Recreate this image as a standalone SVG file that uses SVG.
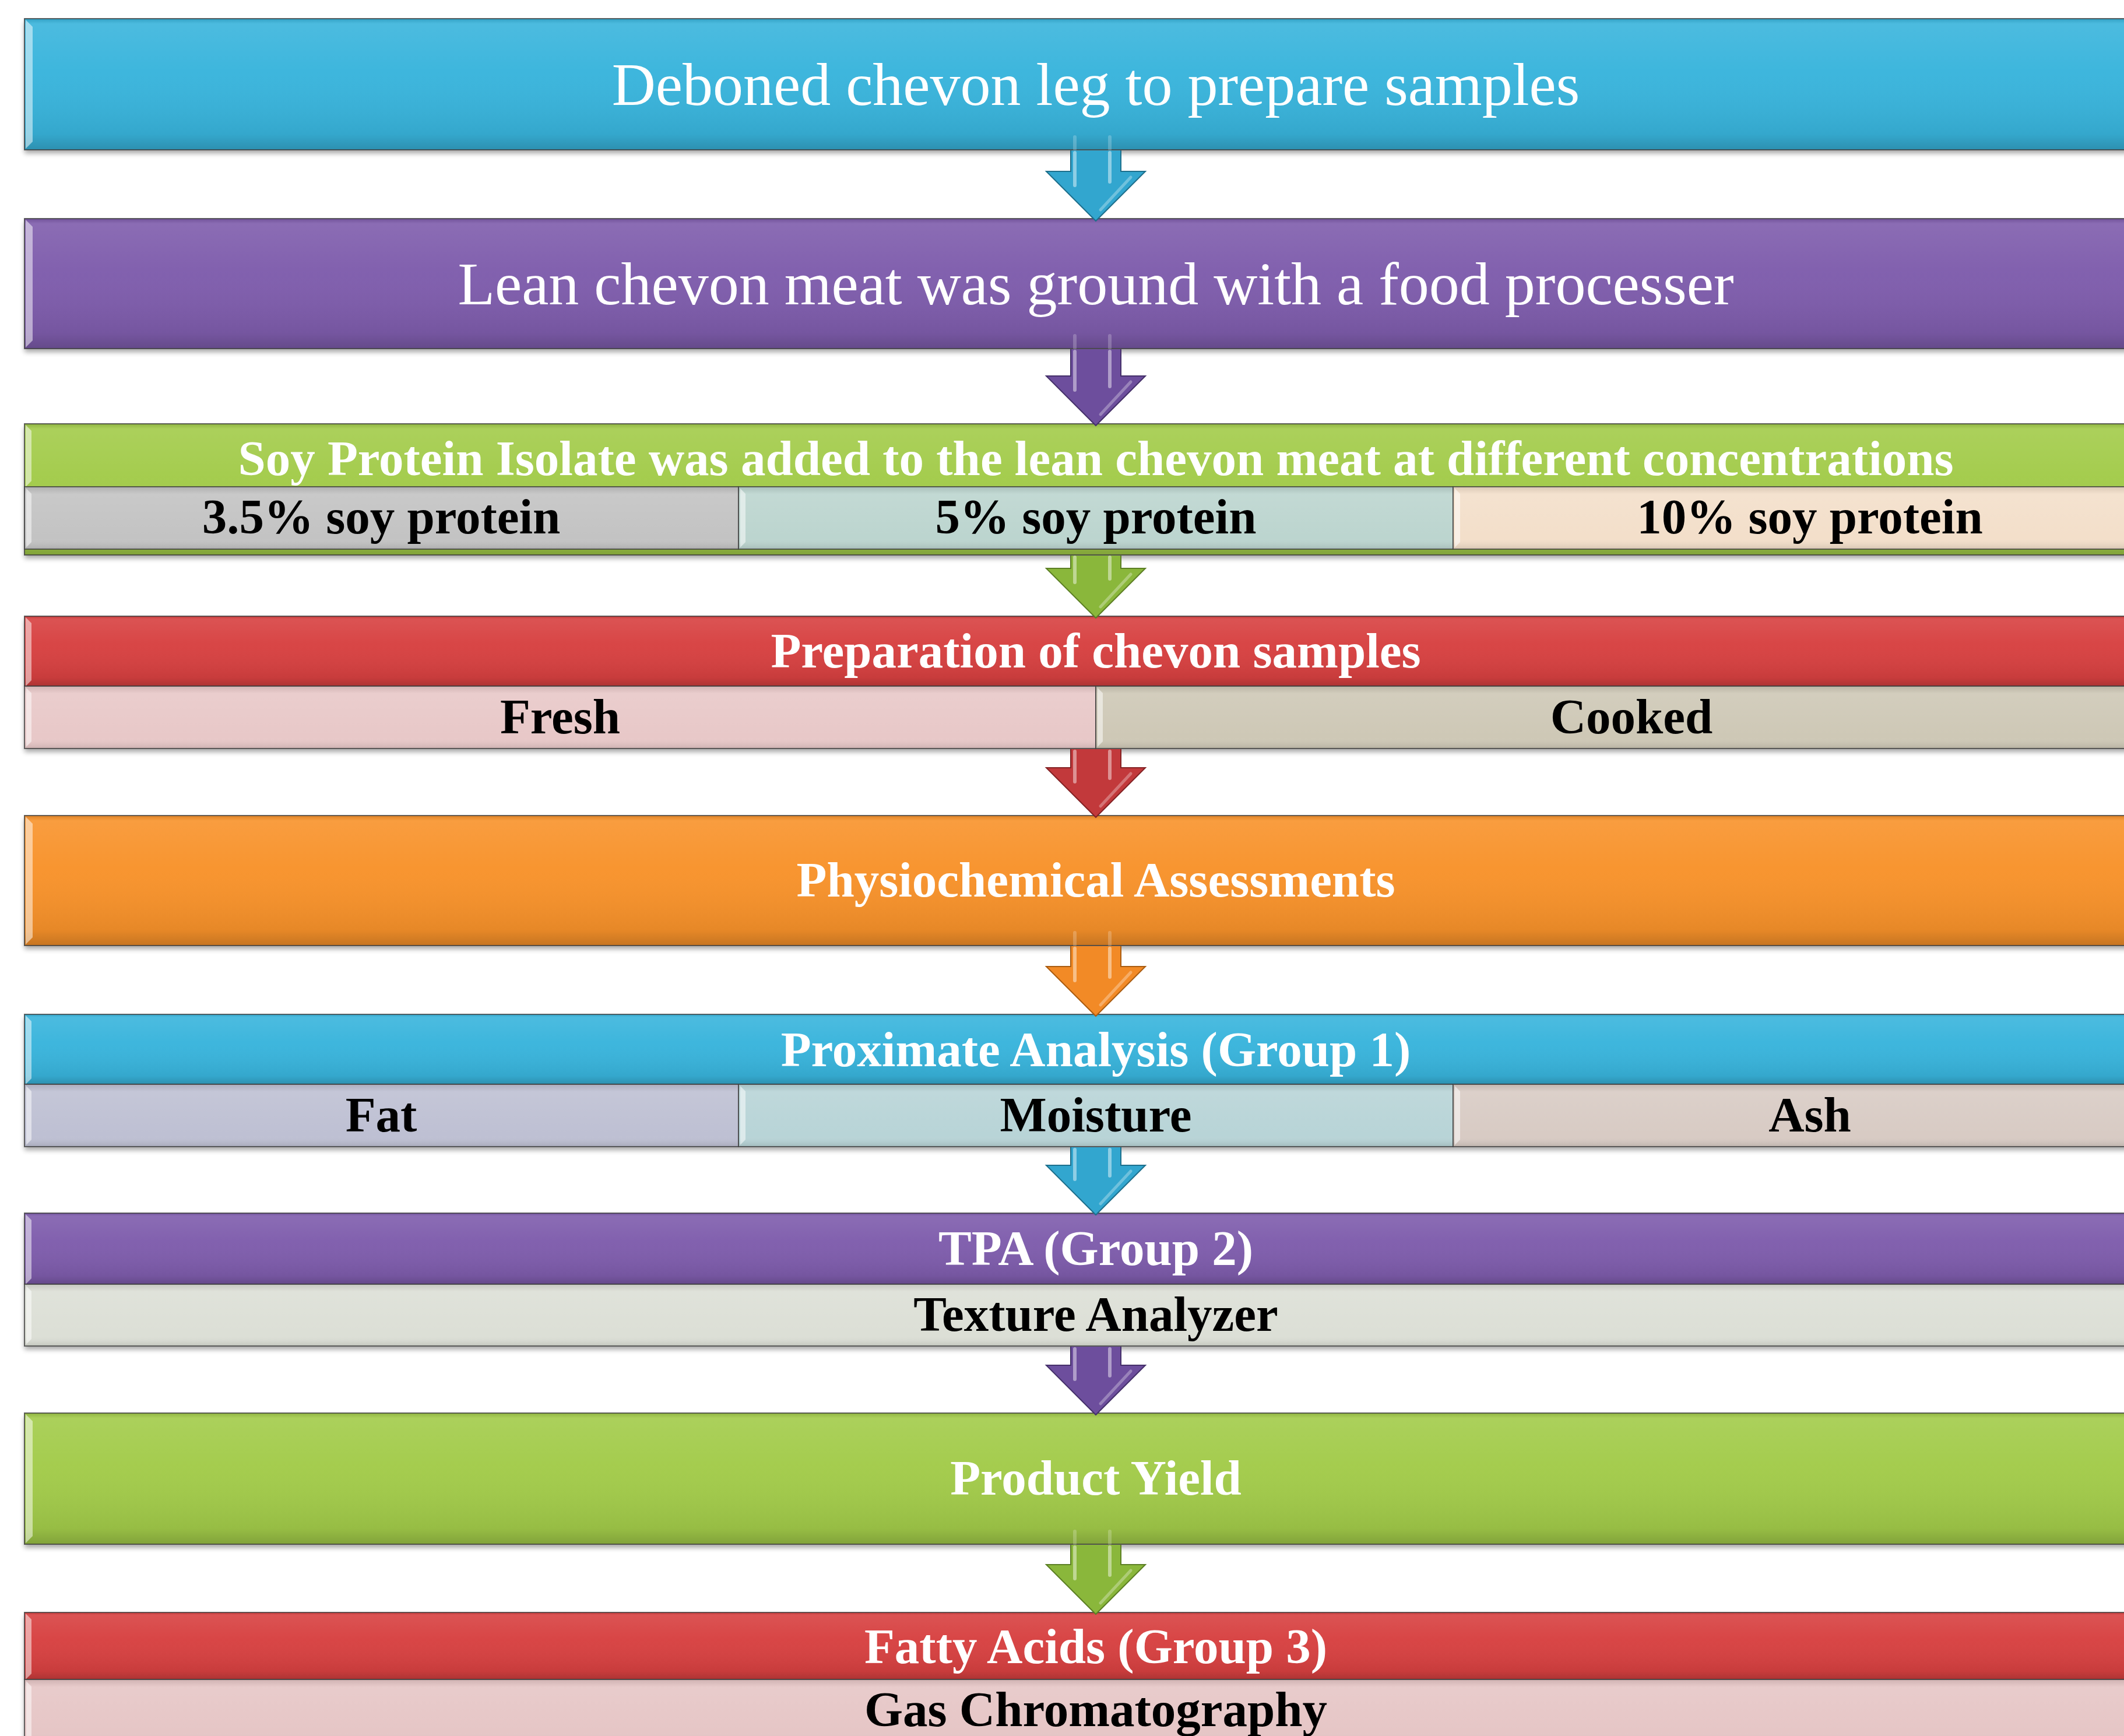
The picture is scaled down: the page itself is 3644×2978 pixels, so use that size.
<svg xmlns="http://www.w3.org/2000/svg" width="3644" height="2978" viewBox="0 0 3644 2978">
<style>
.tr{font-family:"Liberation Serif","Times New Roman",serif;font-size:104px;fill:#ffffff;text-anchor:middle}
.th{font-family:"Liberation Serif","Times New Roman",serif;font-weight:bold;font-size:85px;fill:#ffffff;text-anchor:middle}
.tc{font-family:"Liberation Serif","Times New Roman",serif;font-weight:bold;font-size:85px;fill:#000000;text-anchor:middle}
.bd{stroke:#3a3a3a;stroke-width:2;stroke-opacity:0.75}
.hl{fill:#ffffff;fill-opacity:0.5}
.ahl{stroke:#ffffff;stroke-opacity:0.45;stroke-width:6;fill:none;stroke-linecap:round}
.ain{stroke:#ffffff;stroke-opacity:0.22;stroke-width:6;fill:none;stroke-linecap:round}
.ahd{stroke:#ffffff;stroke-opacity:0.3;stroke-width:5;fill:none;stroke-linecap:round}
.ao{fill:none;stroke-width:2;stroke-linejoin:miter}
</style>
<defs>
<filter id="sh" x="-2%" y="-20%" width="104%" height="150%">
<feGaussianBlur in="SourceAlpha" stdDeviation="4"/>
<feOffset dy="6" result="o"/>
<feComponentTransfer><feFuncA type="linear" slope="0.35"/></feComponentTransfer>
<feMerge><feMergeNode/><feMergeNode in="SourceGraphic"/></feMerge>
</filter>
<linearGradient id="gBar" x1="0" y1="0" x2="0" y2="1">
<stop offset="0" stop-color="#000" stop-opacity="0.12"/>
<stop offset="0.04" stop-color="#fff" stop-opacity="0.1"/>
<stop offset="0.4" stop-color="#fff" stop-opacity="0.03"/>
<stop offset="0.88" stop-color="#000" stop-opacity="0.07"/>
<stop offset="1" stop-color="#000" stop-opacity="0.2"/>
</linearGradient>
<linearGradient id="gCell" x1="0" y1="0" x2="0" y2="1">
<stop offset="0" stop-color="#000" stop-opacity="0.1"/>
<stop offset="0.12" stop-color="#fff" stop-opacity="0.1"/>
<stop offset="0.82" stop-color="#fff" stop-opacity="0"/>
<stop offset="1" stop-color="#000" stop-opacity="0.12"/>
</linearGradient>
</defs>

<!-- Node 1 -->
<g id="n1">
<rect x="42" y="32" width="3676" height="225" fill="#38b4dc" filter="url(#sh)"/>
<rect x="42" y="32" width="3676" height="225" fill="url(#gBar)" class="bd"/>
<path d="M44,34 L56,46 L56,243 L44,255 Z" class="hl"/>
<text x="1880" y="180" class="tr">Deboned chevon leg to prepare samples</text>
</g>

<!-- Node 2 -->
<g id="n2">
<rect x="42" y="375" width="3676" height="223" fill="#7e5cac" filter="url(#sh)"/>
<rect x="42" y="375" width="3676" height="223" fill="url(#gBar)" class="bd"/>
<path d="M44,377 L56,389 L56,584 L44,596 Z" class="hl"/>
<text x="1880" y="522" class="tr">Lean chevon meat was ground with a food processer</text>
</g>

<!-- Node 3 -->
<g id="n3">
<rect x="42" y="727" width="3676" height="225" fill="#a2cb4a" filter="url(#sh)"/>
<rect x="42" y="727" width="3676" height="225" fill="url(#gBar)" class="bd"/>
<path d="M44,729 L54,739 L54,825 L44,835 Z" class="hl"/>
<text x="1880" y="815" class="th">Soy Protein Isolate was added to the lean chevon meat at different concentrations</text>
<g id="n3a">
<rect x="42" y="835" width="1225" height="107" fill="#c3c3c3"/>
<rect x="42" y="835" width="1225" height="107" fill="url(#gCell)" class="bd"/>
<path d="M45,838 L54,847 L54,930 L45,939 Z" class="hl"/>
<text x="654" y="915" class="tc">3.5% soy protein</text>
</g>
<g id="n3b">
<rect x="1267" y="835" width="1226" height="107" fill="#bcd5cf"/>
<rect x="1267" y="835" width="1226" height="107" fill="url(#gCell)" class="bd"/>
<path d="M1270,838 L1279,847 L1279,930 L1270,939 Z" class="hl"/>
<text x="1880" y="915" class="tc">5% soy protein</text>
</g>
<g id="n3c">
<rect x="2493" y="835" width="1225" height="107" fill="#f3dfca"/>
<rect x="2493" y="835" width="1225" height="107" fill="url(#gCell)" class="bd"/>
<path d="M2496,838 L2505,847 L2505,930 L2496,939 Z" class="hl"/>
<text x="3105" y="915" class="tc">10% soy protein</text>
</g>
</g>

<!-- Node 4 -->
<g id="n4">
<rect x="42" y="1057" width="3676" height="227" fill="#d73f40" filter="url(#sh)"/>
<rect x="42" y="1057" width="3676" height="120" fill="url(#gBar)" class="bd"/>
<path d="M44,1059 L54,1069 L54,1167 L44,1177 Z" class="hl"/>
<text x="1880" y="1145" class="th">Preparation of chevon samples</text>
<g id="n4a">
<rect x="42" y="1177" width="1838" height="107" fill="#e8c8c8"/>
<rect x="42" y="1177" width="1838" height="107" fill="url(#gCell)" class="bd"/>
<path d="M45,1180 L54,1189 L54,1272 L45,1281 Z" class="hl"/>
<text x="961" y="1258" class="tc">Fresh</text>
</g>
<g id="n4b">
<rect x="1880" y="1177" width="1838" height="107" fill="#cec8b6"/>
<rect x="1880" y="1177" width="1838" height="107" fill="url(#gCell)" class="bd"/>
<path d="M1883,1180 L1892,1189 L1892,1272 L1883,1281 Z" class="hl"/>
<text x="2799" y="1258" class="tc">Cooked</text>
</g>
</g>

<!-- Node 5 -->
<g id="n5">
<rect x="42" y="1399" width="3676" height="223" fill="#f8922b" filter="url(#sh)"/>
<rect x="42" y="1399" width="3676" height="223" fill="url(#gBar)" class="bd"/>
<path d="M44,1401 L56,1413 L56,1608 L44,1620 Z" class="hl"/>
<text x="1880" y="1538" class="th">Physiochemical Assessments</text>
</g>

<!-- Node 6 -->
<g id="n6">
<rect x="42" y="1740" width="3676" height="227" fill="#38b4dc" filter="url(#sh)"/>
<rect x="42" y="1740" width="3676" height="120" fill="url(#gBar)" class="bd"/>
<path d="M44,1742 L54,1752 L54,1850 L44,1860 Z" class="hl"/>
<text x="1880" y="1829" class="th">Proximate Analysis (Group 1)</text>
<g id="n6a">
<rect x="42" y="1860" width="1225" height="107" fill="#bec0d3"/>
<rect x="42" y="1860" width="1225" height="107" fill="url(#gCell)" class="bd"/>
<path d="M45,1863 L54,1872 L54,1955 L45,1964 Z" class="hl"/>
<text x="654" y="1941" class="tc">Fat</text>
</g>
<g id="n6b">
<rect x="1267" y="1860" width="1226" height="107" fill="#b8d4d7"/>
<rect x="1267" y="1860" width="1226" height="107" fill="url(#gCell)" class="bd"/>
<path d="M1270,1863 L1279,1872 L1279,1955 L1270,1964 Z" class="hl"/>
<text x="1880" y="1941" class="tc">Moisture</text>
</g>
<g id="n6c">
<rect x="2493" y="1860" width="1225" height="107" fill="#d8cbc4"/>
<rect x="2493" y="1860" width="1225" height="107" fill="url(#gCell)" class="bd"/>
<path d="M2496,1863 L2505,1872 L2505,1955 L2496,1964 Z" class="hl"/>
<text x="3105" y="1941" class="tc">Ash</text>
</g>
</g>

<!-- Node 7 -->
<g id="n7">
<rect x="42" y="2081" width="3676" height="228" fill="#7e5cac" filter="url(#sh)"/>
<rect x="42" y="2081" width="3676" height="122" fill="url(#gBar)" class="bd"/>
<path d="M44,2083 L54,2093 L54,2193 L44,2203 Z" class="hl"/>
<text x="1880" y="2170" class="th">TPA (Group 2)</text>
<g id="n7a">
<rect x="42" y="2203" width="3676" height="106" fill="#dcdfd6"/>
<rect x="42" y="2203" width="3676" height="106" fill="url(#gCell)" class="bd"/>
<path d="M45,2206 L54,2215 L54,2297 L45,2306 Z" class="hl"/>
<text x="1880" y="2283" class="tc">Texture Analyzer</text>
</g>
</g>

<!-- Node 8 -->
<g id="n8">
<rect x="42" y="2424" width="3676" height="225" fill="#a2cb4a" filter="url(#sh)"/>
<rect x="42" y="2424" width="3676" height="225" fill="url(#gBar)" class="bd"/>
<path d="M44,2426 L56,2438 L56,2635 L44,2647 Z" class="hl"/>
<text x="1880" y="2564" class="th">Product Yield</text>
</g>

<!-- Node 9 -->
<g id="n9">
<rect x="42" y="2766" width="3676" height="230" fill="#d73f40" filter="url(#sh)"/>
<rect x="42" y="2766" width="3676" height="115" fill="url(#gBar)" class="bd"/>
<path d="M44,2768 L54,2778 L54,2871 L44,2881 Z" class="hl"/>
<text x="1880" y="2853" class="th">Fatty Acids (Group 3)</text>
<g id="n9a">
<rect x="42" y="2881" width="3676" height="110" fill="#e6c6c6"/>
<rect x="42" y="2881" width="3676" height="110" fill="url(#gCell)" class="bd"/>
<path d="M45,2884 L54,2893 L54,2980 L45,2989 Z" class="hl"/>
<text x="1880" y="2961" class="tc">Gas Chromatography</text>
</g>
</g>

<!-- Connectors -->
<g id="connectors">
<g id="a1">
<path d="M1844,235 L1844,256 M1904,235 L1904,256" class="ain"/>
<path d="M1837,258 L1923,258 L1923,294 L1965,294 L1880,379 L1795,294 L1837,294 Z" fill="#32a6cf"/>
<path d="M1837,258 L1837,294 L1795,294 L1880,379 L1965,294 L1923,294 L1923,258" class="ao" stroke="#1d6f8c"/>
<path d="M1844,262 L1844,318 M1904,262 L1904,312" class="ahl"/>
<path d="M1940,304 L1888,360" class="ahd"/>
</g>
<g id="a2">
<path d="M1844,576 L1844,597 M1904,576 L1904,597" class="ain"/>
<path d="M1837,599 L1923,599 L1923,645 L1965,645 L1880,730 L1795,645 L1837,645 Z" fill="#6d4e9d"/>
<path d="M1837,599 L1837,645 L1795,645 L1880,730 L1965,645 L1923,645 L1923,599" class="ao" stroke="#45306a"/>
<path d="M1844,603 L1844,669 M1904,603 L1904,663" class="ahl"/>
<path d="M1940,655 L1888,711" class="ahd"/>
</g>
<g id="a3">
<path d="M1837,953 L1923,953 L1923,975 L1965,975 L1880,1060 L1795,975 L1837,975 Z" fill="#8ab73b"/>
<path d="M1837,953 L1837,975 L1795,975 L1880,1060 L1965,975 L1923,975 L1923,953" class="ao" stroke="#5c7f24"/>
<path d="M1844,956 L1844,999 M1904,956 L1904,993" class="ahl"/>
<path d="M1940,985 L1888,1041" class="ahd"/>
</g>
<g id="a4">
<path d="M1837,1285 L1923,1285 L1923,1317 L1965,1317 L1880,1402 L1795,1317 L1837,1317 Z" fill="#c2393b"/>
<path d="M1837,1285 L1837,1317 L1795,1317 L1880,1402 L1965,1317 L1923,1317 L1923,1285" class="ao" stroke="#842224"/>
<path d="M1844,1289 L1844,1341 M1904,1289 L1904,1335" class="ahl"/>
<path d="M1940,1327 L1888,1383" class="ahd"/>
</g>
<g id="a5">
<path d="M1844,1600 L1844,1621 M1904,1600 L1904,1621" class="ain"/>
<path d="M1837,1623 L1923,1623 L1923,1658 L1965,1658 L1880,1743 L1795,1658 L1837,1658 Z" fill="#f28a26"/>
<path d="M1837,1623 L1837,1658 L1795,1658 L1880,1743 L1965,1658 L1923,1658 L1923,1623" class="ao" stroke="#aa5c10"/>
<path d="M1844,1627 L1844,1682 M1904,1627 L1904,1676" class="ahl"/>
<path d="M1940,1668 L1888,1724" class="ahd"/>
</g>
<g id="a6">
<path d="M1837,1968 L1923,1968 L1923,1999 L1965,1999 L1880,2084 L1795,1999 L1837,1999 Z" fill="#32a6cf"/>
<path d="M1837,1968 L1837,1999 L1795,1999 L1880,2084 L1965,1999 L1923,1999 L1923,1968" class="ao" stroke="#1d6f8c"/>
<path d="M1844,1972 L1844,2023 M1904,1972 L1904,2017" class="ahl"/>
<path d="M1940,2009 L1888,2065" class="ahd"/>
</g>
<g id="a7">
<path d="M1837,2310 L1923,2310 L1923,2342 L1965,2342 L1880,2427 L1795,2342 L1837,2342 Z" fill="#6d4e9d"/>
<path d="M1837,2310 L1837,2342 L1795,2342 L1880,2427 L1965,2342 L1923,2342 L1923,2310" class="ao" stroke="#45306a"/>
<path d="M1844,2314 L1844,2366 M1904,2314 L1904,2360" class="ahl"/>
<path d="M1940,2352 L1888,2408" class="ahd"/>
</g>
<g id="a8">
<path d="M1844,2627 L1844,2648 M1904,2627 L1904,2648" class="ain"/>
<path d="M1837,2650 L1923,2650 L1923,2684 L1965,2684 L1880,2769 L1795,2684 L1837,2684 Z" fill="#8ab73b"/>
<path d="M1837,2650 L1837,2684 L1795,2684 L1880,2769 L1965,2684 L1923,2684 L1923,2650" class="ao" stroke="#5c7f24"/>
<path d="M1844,2654 L1844,2708 M1904,2654 L1904,2702" class="ahl"/>
<path d="M1940,2694 L1888,2750" class="ahd"/>
</g>
</g>
</svg>
